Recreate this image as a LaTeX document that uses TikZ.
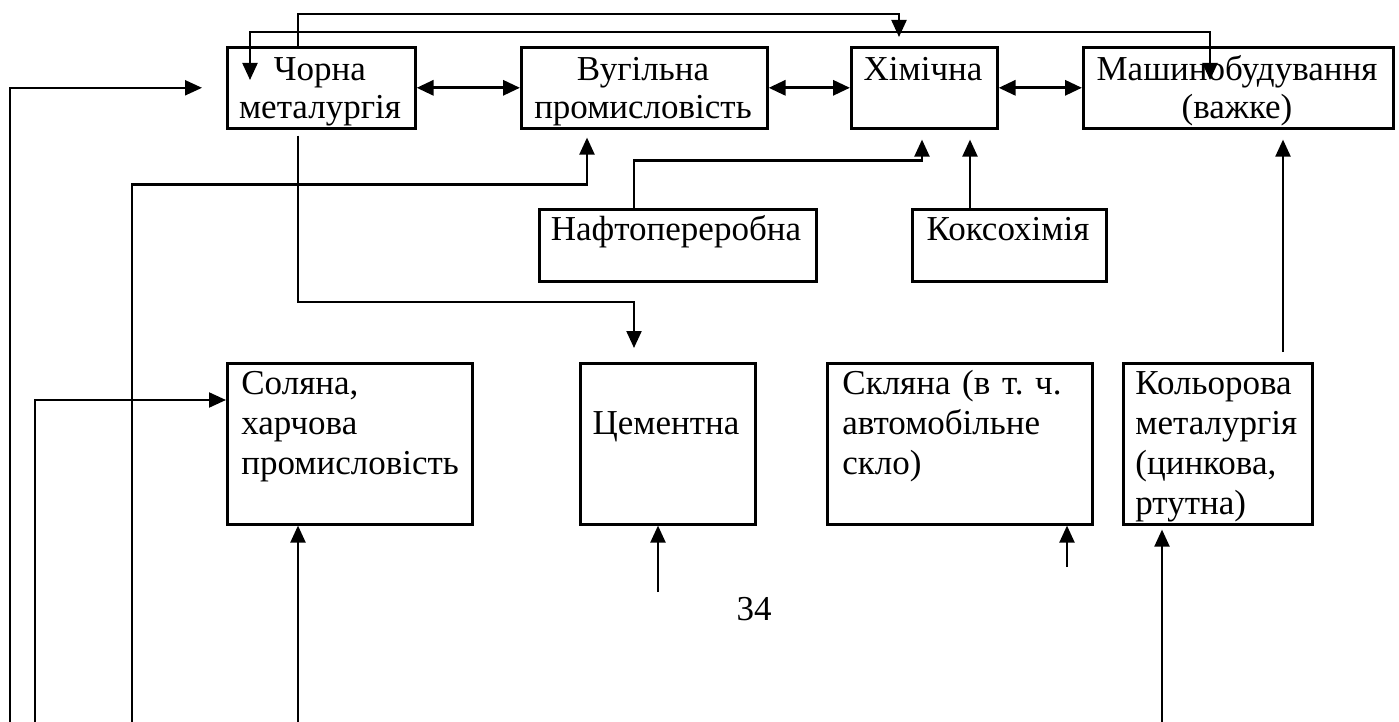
\documentclass[tikz,border=0pt]{standalone}
\usepackage{fontspec}
\setmainfont{Liberation Serif}
\usetikzlibrary{arrows.meta,calc}
\begin{document}
\begin{tikzpicture}[x=0.5pt,y=-0.5pt,
  box/.style={draw,line width=1.3pt,inner sep=0pt,anchor=north west},
  toptext/.style={inner sep=0pt,font=\fontsize{17.5pt}{19pt}\selectfont\frenchspacing,text width=170pt,align=center,anchor=base},
  lefttext/.style={inner sep=0pt,font=\fontsize{17.5pt}{20pt}\selectfont\frenchspacing,text width=150pt,align=left,anchor=base west},
  con/.style={line width=1.1pt},
  arr/.style={con,-{Triangle[length=8.5pt,width=7.5pt]}},
  darr/.style={con,{Triangle[length=8.5pt,width=7.5pt]}-{Triangle[length=8.5pt,width=7.5pt]}},
  harr/.style={darr,line width=1.6pt}]
\useasboundingbox (0,0) rectangle (1399,722);
% boxes
\node[box,minimum width=94pt,minimum height=40.5pt] (chorna) at (226,46) {};
\node[box,minimum width=123pt,minimum height=40.5pt] (vug) at (520,46) {};
\node[box,minimum width=73pt,minimum height=40.5pt] (him) at (850,46) {};
\node[box,minimum width=155pt,minimum height=40.5pt] (mash) at (1082,46) {};
\node[box,minimum width=138.5pt,minimum height=36pt] (nafta) at (538,208) {};
\node[box,minimum width=97pt,minimum height=36pt] (koks) at (911,208) {};
\node[box,minimum width=122.5pt,minimum height=80.5pt] (sol) at (226,362) {};
\node[box,minimum width=87.5pt,minimum height=80.5pt] (cem) at (579,362) {};
\node[box,minimum width=132.5pt,minimum height=80.5pt] (skl) at (826,362) {};
\node[box,minimum width=94.5pt,minimum height=80.5pt] (kol) at (1122,362) {};
% texts
\node[toptext] (tchorna) at (320,81) {Чорна\\металургія};
\node[toptext] (tvug) at (643,81) {Вугільна\\промисловість};
\node[toptext] (thim) at (923,81) {Хімічна};
\node[toptext] (tmash) at (1237,81) {Машинобудування\\(важке)};
\node[toptext] (tnafta) at (676,241) {Нафтопереробна};
\node[toptext] (tkoks) at (1008,241) {Коксохімія};
\node[toptext] (tcem) at (666,434) {Цементна};
\node[lefttext] (tsol) at (241,394) {Соляна,\\харчова\\промисловість};
\node[lefttext] (tskl) at (842,394) {Скляна (в т. ч.\\автомобільне\\скло)};
\node[lefttext] (tkol) at (1135,394) {Кольорова\\металургія\\(цинкова,\\ртутна)};
\node[toptext] (page) at (754,620) {34};
% free ends
\coordinate (b1) at (10,722);
\coordinate (b2) at (35,722);
\coordinate (b3) at (132,722);
\coordinate (b4) at (298,722);
\coordinate (b5) at (1162,722);
\coordinate (s1) at (658,592);
\coordinate (s2) at (1067,567);
% connectors
\draw[arr] ($(chorna.north west)+(72,0)$) -- ++(0,-32) -| ($(him.north west)+(49,-9)$);
\draw[darr] ($(chorna.north west)+(24,34)$) -- ++(0,-48) -| ($(mash.north west)+(128,34)$);
\draw[harr] (chorna.east) -- (vug.west);
\draw[harr] (vug.east) -- (him.west);
\draw[harr] (him.east) -- (mash.west);
\draw[arr] (b1) |- ($(chorna.west)+(-24,0)$);
\draw[arr] (b2) |- ($(sol.north west)+(0,38)$);
\draw[arr] (b3) |- ($(vug.south west)+(67,55)$) -- ($(vug.south west)+(67,8)$);
\draw[arr] ($(chorna.south west)+(72,6)$) |- ($(cem.north west)+(55,-60)$) -- ($(cem.north west)+(55,-14)$);
\draw[arr] ($(nafta.north west)+(96,0)$) |- ($(him.south west)+(72,31)$) -- ($(him.south west)+(72,10)$);
\draw[arr] ($(koks.north west)+(59,0)$) -- ($(him.south west)+(120,10)$);
\draw[arr] ($(kol.north west)+(161,-10)$) -- ($(mash.south west)+(201,10)$);
\draw[arr] (b4) -- ($(sol.south west)+(72,0)$);
\draw[arr] (s1) -- ($(cem.south west)+(79,0)$);
\draw[arr] (s2) -- ($(skl.south west)+(241,0)$);
\draw[arr] (b5) -- ($(kol.south west)+(40,4)$);
\end{tikzpicture}
\end{document}
